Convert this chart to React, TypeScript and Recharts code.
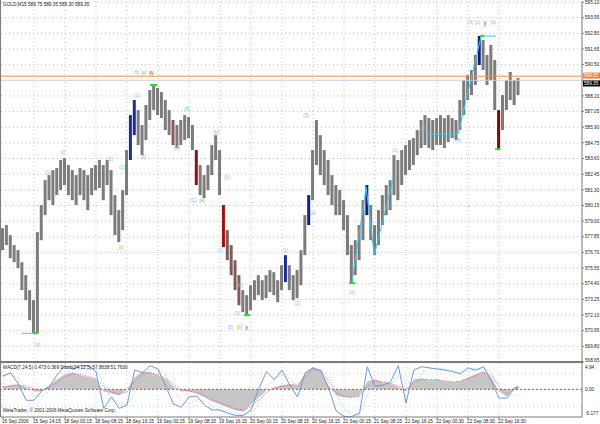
import React from 'react';
import {
  ComposedChart, Bar, Cell, Line, Area, XAxis, YAxis, CartesianGrid,
  ReferenceLine, ReferenceDot
} from 'recharts';

const FONT = '"Liberation Sans", Arial, sans-serif';

// GOLD M15 bars (index = bar slot), high / low in price
const BAR_HI = [
  578.48, 578.71, 577.97, 577.24, 576.87, 575.98, 575.03, 573.93, 573.19, 578.19,
  580.18, 582.01, 582.38, 582.75, 582.90, 583.49, 583.63, 583.12, 582.75, 582.38,
  582.90, 582.75, 582.38, 582.90, 583.12, 583.49, 583.12, 583.49, 582.75, 580.91,
  579.81, 581.28, 584.22, 586.79, 587.90, 587.16, 586.06, 587.53, 588.63, 589.07,
  588.78, 588.49, 587.90, 587.16, 586.43, 586.06, 586.43, 586.79, 586.65, 586.06,
  584.22, 583.12, 582.38, 583.12, 584.59, 585.32, 584.22, 580.18, 578.34, 577.24,
  576.13, 575.03, 573.93, 573.56, 574.29, 574.66, 575.03, 574.66, 575.03, 575.40,
  575.25, 574.66, 575.76, 576.50, 575.76, 575.03, 575.40, 576.87, 579.44, 580.91,
  584.22, 586.43, 585.32, 584.22, 583.49, 582.38, 581.65, 581.28, 580.54, 579.44,
  577.24, 577.60, 578.71, 580.54, 581.65, 580.18, 578.71, 579.81, 580.91, 581.65,
  582.01, 583.85, 583.49, 584.22, 584.59, 584.95, 585.10, 585.69, 586.43, 586.79,
  586.57, 586.43, 586.57, 586.79, 586.57, 586.79, 586.57, 586.43, 587.90, 589.37,
  589.73, 590.10, 591.21, 592.60, 592.31, 591.21, 591.94, 590.84, 587.16, 588.26,
  589.37, 589.96, 589.37, 589.51
];
const BAR_LO = [
  576.87, 577.24, 576.28, 575.98, 575.54, 573.93, 573.19, 571.72, 570.76, 570.76,
  577.60, 579.44, 580.54, 580.18, 580.91, 581.28, 581.65, 580.91, 580.54, 580.18,
  580.91, 580.54, 579.81, 580.91, 581.28, 581.43, 580.54, 581.65, 579.44, 577.97,
  577.46, 578.34, 580.91, 583.49, 585.32, 584.59, 583.85, 584.95, 586.43, 587.16,
  586.79, 586.57, 585.69, 585.32, 584.59, 584.37, 584.59, 584.95, 585.10, 584.22,
  581.65, 580.91, 580.69, 581.28, 582.38, 583.49, 580.91, 577.09, 576.13, 575.03,
  573.93, 572.82, 572.31, 572.09, 572.45, 573.19, 573.56, 573.19, 573.34, 573.78,
  573.56, 573.04, 573.93, 574.52, 573.93, 573.19, 573.34, 574.29, 576.50, 578.71,
  580.54, 583.12, 582.38, 581.65, 580.91, 580.18, 579.44, 579.44, 578.34, 576.50,
  574.44, 575.03, 576.13, 577.60, 579.44, 577.60, 576.50, 577.24, 578.71, 579.44,
  579.81, 580.91, 580.54, 581.65, 582.38, 582.75, 583.12, 583.85, 584.37, 584.59,
  584.37, 584.22, 584.59, 584.59, 584.37, 584.81, 585.10, 584.95, 585.69, 586.79,
  587.90, 588.26, 589.00, 590.47, 590.10, 589.00, 589.37, 587.16, 584.29, 585.69,
  587.16, 587.90, 587.53, 588.26
];
const BAR_TINT: Record<number, string> = {
  33: '#1c2c96', 34: '#1c2c96', 73: '#1c2c96', 79: '#10207f', 94: '#10207f', 123: '#10207f',
  44: '#8a5a5a', 50: '#8a1414', 57: '#a01010', 58: '#7e5c5c', 59: '#7e5c5c', 60: '#7e5c5c',
  61: '#7e5c5c', 128: '#900000'
};

// indicator window: MACD(7,24,5) + Stoch(24,12,5), sampled every 2 bars
const STOCH_MAIN = [
  76, 82, 61, 31, 31, 48, 57, 78, 95, 89, 95, 95, 84, 16, 37, 16, 22, 87, 82, 95,
  89, 57, 24, 18, 37, 39, 22, 13, 13, 7, 3, 3, 13, 52, 84, 69, 87, 59, 37, 82,
  91, 86, 54, 11, 1, 1, 7, 93, 57, 59, 65, 95, 26, 87, 93, 91, 89, 87, 84, 80,
  91, 87, 93, 67, 35, 35, 54, 54
];
const STOCH_SIG = [
  75, 78, 72, 55, 40, 38, 48, 62, 80, 90, 92, 94, 90, 60, 35, 25, 22, 45, 75, 88,
  90, 78, 50, 30, 25, 32, 30, 20, 14, 10, 6, 4, 6, 25, 55, 72, 78, 72, 55, 55,
  78, 88, 75, 45, 15, 4, 3, 40, 65, 65, 60, 75, 65, 60, 80, 90, 90, 88, 86, 83,
  85, 87, 90, 82, 58, 42, 40, 42
];
const MACD_HIST = [
  0.57, 0.76, 0.95, 0.38, -0.38, -0.38, 0.76, 1.9, 2.84, 3.2, 2.65, 2.27, 1.9, -0.38, -0.76, -1.14, 0, 2.27, 3.41, 3.2,
  2.65, 1.9, 0.57, -0.38, -0.38, -0.76, -1.52, -2.27, -2.84, -3.41, -3.98, -4.17, -2.84, -1.52, -0.19, 0.38, 0.76, 0.95, 0.76, 3.03,
  4.17, 3.41, 0.76, -1.14, -1.52, -1.52, -1.14, 1.52, 1.9, 1.33, 1.14, 0.38, -0.38, 1.9, 2.08, 1.7, 1.9, 1.52, 1.33, 1.52,
  2.27, 2.84, 3.41, 2.27, -0.38, -1.33, 0.38, 0.76
];
const MACD_SIG = [
  0.5, 0.65, 0.8, 0.6, 0.1, -0.2, 0.3, 1.3, 2.3, 2.9, 2.8, 2.4, 2.0, 0.5, -0.5, -0.9, -0.4, 1.5, 2.9, 3.1,
  2.8, 2.1, 1.0, 0.0, -0.3, -0.6, -1.2, -1.9, -2.5, -3.1, -3.6, -3.9, -3.2, -2.0, -0.6, 0.2, 0.6, 0.85, 0.8, 2.3,
  3.7, 3.6, 1.5, -0.6, -1.3, -1.5, -1.3, 0.6, 1.6, 1.45, 1.2, 0.6, -0.1, 1.3, 1.9, 1.8, 1.85, 1.6, 1.4, 1.5,
  2.0, 2.6, 3.2, 2.6, 0.5, -0.9, -0.1, 0.4
];
const SUB_IDX = STOCH_MAIN.map((_, k) => Math.min(k * 2, 133));

const TIME_TICKS = [0, 8, 16, 24, 32, 40, 48, 56, 64, 72, 80, 88, 96, 104, 112, 120, 128];
const TIME_LABELS = [
  '15 Sep 2006', '15 Sep 14:15', '18 Sep 00:15', '18 Sep 08:15', '18 Sep 16:15', '19 Sep 00:15',
  '19 Sep 08:15', '19 Sep 16:15', '20 Sep 00:15', '20 Sep 08:15', '20 Sep 16:15', '21 Sep 00:15',
  '21 Sep 08:15', '21 Sep 16:15', '22 Sep 00:30', '22 Sep 08:30', '22 Sep 16:30'
];
const PRICE_TICKS = [
  568.65, 569.80, 570.95, 572.10, 573.25, 574.40, 575.55, 576.70, 577.85, 579.00, 580.15, 581.30,
  582.45, 583.60, 584.75, 585.90, 587.05, 588.20, 589.35, 590.50, 591.65, 592.80, 593.95, 595.10
];
const ASK = 589.65;
const BID = 589.35;

const BLUE = '#86c2ee';
const OLIVE = '#a8bf4c';
const RED = '#c4553e';

// Elliott wave marks: text, colour, bar slot, price
const WAVE_LABELS: [string, string, number, number][] = [
  ['(a)', BLUE, 8.8, 569.95], ['(1)', BLUE, 11.6, 582.6], ['[i]', OLIVE, 15.5, 584.07],
  ['(3)', BLUE, 27.6, 583.56], ['(1)', BLUE, 30.7, 582.97], ['[ii]', OLIVE, 30.5, 577.09],
  ['(1)', BLUE, 34.6, 588.26], ['(4)', BLUE, 36.2, 583.7],
  ['(5)', BLUE, 34.4, 589.95], ['[a]', OLIVE, 36.3, 589.95], ['w', RED, 38.3, 589.95],
  ['(B)', BLUE, 47.5, 587.23], ['(A)', BLUE, 44.9, 584.36],
  ['(C)', BLUE, 49.1, 580.54], ['[a]', OLIVE, 51.4, 580.54], ['[b]', OLIVE, 55.0, 585.54],
  ['(3)', BLUE, 57.8, 582.23], ['(1)', BLUE, 56.0, 576.86], ['(4)', BLUE, 61.2, 574.29],
  ['(3)', BLUE, 60.4, 572.23],
  ['(5)', BLUE, 58.7, 571.2], ['[b]', OLIVE, 61.0, 571.2], ['x', RED, 62.9, 571.2],
  ['(1)', BLUE, 72.8, 576.86], ['(2)', BLUE, 75.9, 572.97], ['(4)', BLUE, 80.0, 579.59],
  ['(5)', BLUE, 78.2, 586.79], ['[c]', OLIVE, 90.1, 573.78],
  ['(1)', BLUE, 101.2, 584.22], ['(2)', BLUE, 108.4, 585.84], ['(4)', BLUE, 117.4, 584.95],
  ['(5)', BLUE, 120.7, 593.56], ['[c]', OLIVE, 122.5, 593.56], ['y', RED, 124.4, 593.56], ['(b)', BLUE, 126.5, 593.56]
];
// wave lines: [slot1, price1, slot2, price2]
const GREEN_MARKS = [
  [8.0, 570.76, 9.05, 570.76], [37.9, 589.0, 39.8, 589.0], [62.2, 572.09, 63.8, 572.09],
  [89.3, 574.44, 90.9, 574.44], [123.1, 592.6, 124.2, 592.6], [127.0, 584.29, 128.3, 584.29]
];
const CYAN_MARKS = [
  [4.9, 570.76, 8.0, 570.76], [90.1, 574.59, 93.7, 581.5], [93.7, 581.5, 95.8, 576.5],
  [95.8, 576.5, 100.7, 582.16], [109.4, 585.39, 117.4, 585.39], [117.4, 585.39, 123.4, 592.6],
  [124.2, 592.6, 127.2, 592.6]
];

const X_DOMAIN = [-0.5, 149.4];

const priceData = BAR_HI.map((hi, i) => ({ i, range: [BAR_LO[i], hi] }));
const subData = SUB_IDX.map((i, k) => ({
  i, st: STOCH_MAIN[k], sg: STOCH_SIG[k], mh: MACD_HIST[k], ms: MACD_SIG[k]
}));

const PriceTick = ({ y, payload }: any) => {
  const v = payload.value;
  if (v === BID) return null; // hidden under the bid box
  const dy = v === 568.65 ? -0.5 : 1.7;
  return <text x={585} y={y + dy} fontSize={4.7} fill="#222" fontFamily={FONT}>{v.toFixed(2)}</text>;
};

const SubTick = ({ y, payload }: any) => {
  const v = payload.value;
  let txt = String(v);
  let dy = 1.7;
  if (v === 0) txt = '0.00';
  if (v === 4.94) dy = 5.5;
  if (v === -5.177) dy = -2;
  return <text x={585} y={y + dy} fontSize={4.7} fill="#222" fontFamily={FONT}>{txt}</text>;
};

const TimeTick = ({ x, payload }: any) => (
  <text x={x - 1} y={59.5} fontSize={4.7} fill="#222" fontFamily={FONT}>
    {TIME_LABELS[TIME_TICKS.indexOf(payload.value)]}
  </text>
);

const PriceBox = ({ viewBox, text, bg, dy }: any) => {
  if (!viewBox) return null;
  const x = viewBox.x + viewBox.width;
  const y = viewBox.y + dy;
  return (
    <g>
      <rect x={x + 1} y={y - 3} width={17} height={6} fill={bg} />
      <text x={x + 2} y={y + 1.8} fontSize={4.7} fill="#fff" fontFamily={FONT}>{text}</text>
    </g>
  );
};

export default function App() {
  return (
    <div style={{ position: 'absolute', left: 0, top: 0, width: 600, height: 424, background: '#fff', overflow: 'hidden' }}>
      <div style={{ position: 'absolute', left: 0, top: 0 }}>
        <ComposedChart width={600} height={363} data={priceData} margin={{ top: 2, right: 0, bottom: 1, left: 1 }}>
          <CartesianGrid stroke="#c4c4c4" strokeDasharray="1 3" />
          <XAxis dataKey="i" type="number" domain={X_DOMAIN} ticks={TIME_TICKS} hide allowDataOverflow />
          <YAxis orientation="right" type="number" domain={[568.65, 595.10]} ticks={PRICE_TICKS} interval={0}
            width={18} tickSize={2} axisLine={{ stroke: '#808080' }} tickLine={{ stroke: '#808080' }}
            tick={<PriceTick />} allowDataOverflow />
          <Bar dataKey="range" barSize={3} isAnimationActive={false}>
            {priceData.map(d => <Cell key={d.i} fill={BAR_TINT[d.i] || '#7c7c7c'} />)}
          </Bar>
          <ReferenceLine y={BID} stroke="#c9d3e8" label={<PriceBox text="589.35" bg="#000" dy={3.2} />} />
          <ReferenceLine y={ASK} stroke="#ff8c4a" strokeWidth={1} label={<PriceBox text="589.65" bg="#ff7a30" dy={-0.6} />} />
          {CYAN_MARKS.map((s, k) => (
            <ReferenceLine key={'c' + k} segment={[{ x: s[0], y: s[1] }, { x: s[2], y: s[3] }]} stroke="#3cc8f4" strokeWidth={1} />
          ))}
          {GREEN_MARKS.map((s, k) => (
            <ReferenceLine key={'g' + k} segment={[{ x: s[0], y: s[1] }, { x: s[2], y: s[3] }]} stroke="#22e622" strokeWidth={2} />
          ))}
          {WAVE_LABELS.map((w, k) => (
            <ReferenceDot key={'w' + k} x={w[2]} y={w[3]} r={0}
              shape={(p: any) => (
                <text x={p.cx} y={p.cy} textAnchor="middle" dominantBaseline="central"
                  fontSize={w[1] === RED ? 6.5 : 4.8} fill={w[1]} fontFamily={FONT}>{w[0]}</text>
              )} />
          ))}
        </ComposedChart>
      </div>
      <div style={{ position: 'absolute', left: 0, top: 363 }}>
        <ComposedChart width={600} height={61} data={subData} margin={{ top: 0, right: 0, bottom: 0, left: 1 }}>
          <CartesianGrid yAxisId="st" stroke="#cfcfcf" strokeDasharray="1 3" />
          <XAxis dataKey="i" type="number" domain={X_DOMAIN} ticks={TIME_TICKS} interval={0} height={7}
            tickSize={2} axisLine={{ stroke: '#808080' }} tickLine={{ stroke: '#808080' }} tick={<TimeTick />} allowDataOverflow />
          <YAxis yAxisId="st" orientation="right" type="number" domain={[0, 100]} ticks={[20, 80]} interval={0}
            width={0} axisLine={false} tickLine={false} tick={<SubTick />} />
          <YAxis yAxisId="m" orientation="right" type="number" domain={[-5.177, 4.94]} ticks={[4.94, 0, -5.177]} interval={0}
            width={18} axisLine={{ stroke: '#808080' }} tickLine={false} tick={<SubTick />} allowDataOverflow />
          <Area yAxisId="m" dataKey="mh" type="linear" fill="#c6c6c6" fillOpacity={1} stroke="none" baseValue={0} isAnimationActive={false} />
          <ReferenceLine yAxisId="m" y={0} stroke="#ff2a2a" strokeDasharray="2 2" />
          <Line yAxisId="m" dataKey="ms" type="linear" stroke="#ef4f7c" strokeDasharray="1 1.5" dot={false} isAnimationActive={false} />
          <Line yAxisId="st" dataKey="sg" type="linear" stroke="#a4c4ea" strokeDasharray="1 2" dot={false} isAnimationActive={false} />
          <Line yAxisId="st" dataKey="st" type="linear" stroke="#6d9bd2" dot={false} isAnimationActive={false} />
        </ComposedChart>
      </div>
      <svg width={600} height={424} style={{ position: 'absolute', left: 0, top: 0, pointerEvents: 'none' }}>
        <rect x={0} y={0} width={1} height={417} fill="#808080" />
        <rect x={0} y={361} width={583} height={2} fill="#7a7a7a" />
        <text x={3} y={6} fontSize={4.7} fill="#222" fontFamily={FONT}>GOLD,M15  589.75 589.35 589.30 589.35</text>
        <text x={3} y={369} fontSize={4.7} fill="#222" fontFamily={FONT}>MACD(7,24,5) 0.473 0.369  Stoch(24,12,5) 57.8638 51.7630</text>
        <text x={3} y={412} fontSize={4.7} fill="#222" fontFamily={FONT}>MetaTrader, © 2001-2006 MetaQuotes Software Corp.</text>
      </svg>
    </div>
  );
}
